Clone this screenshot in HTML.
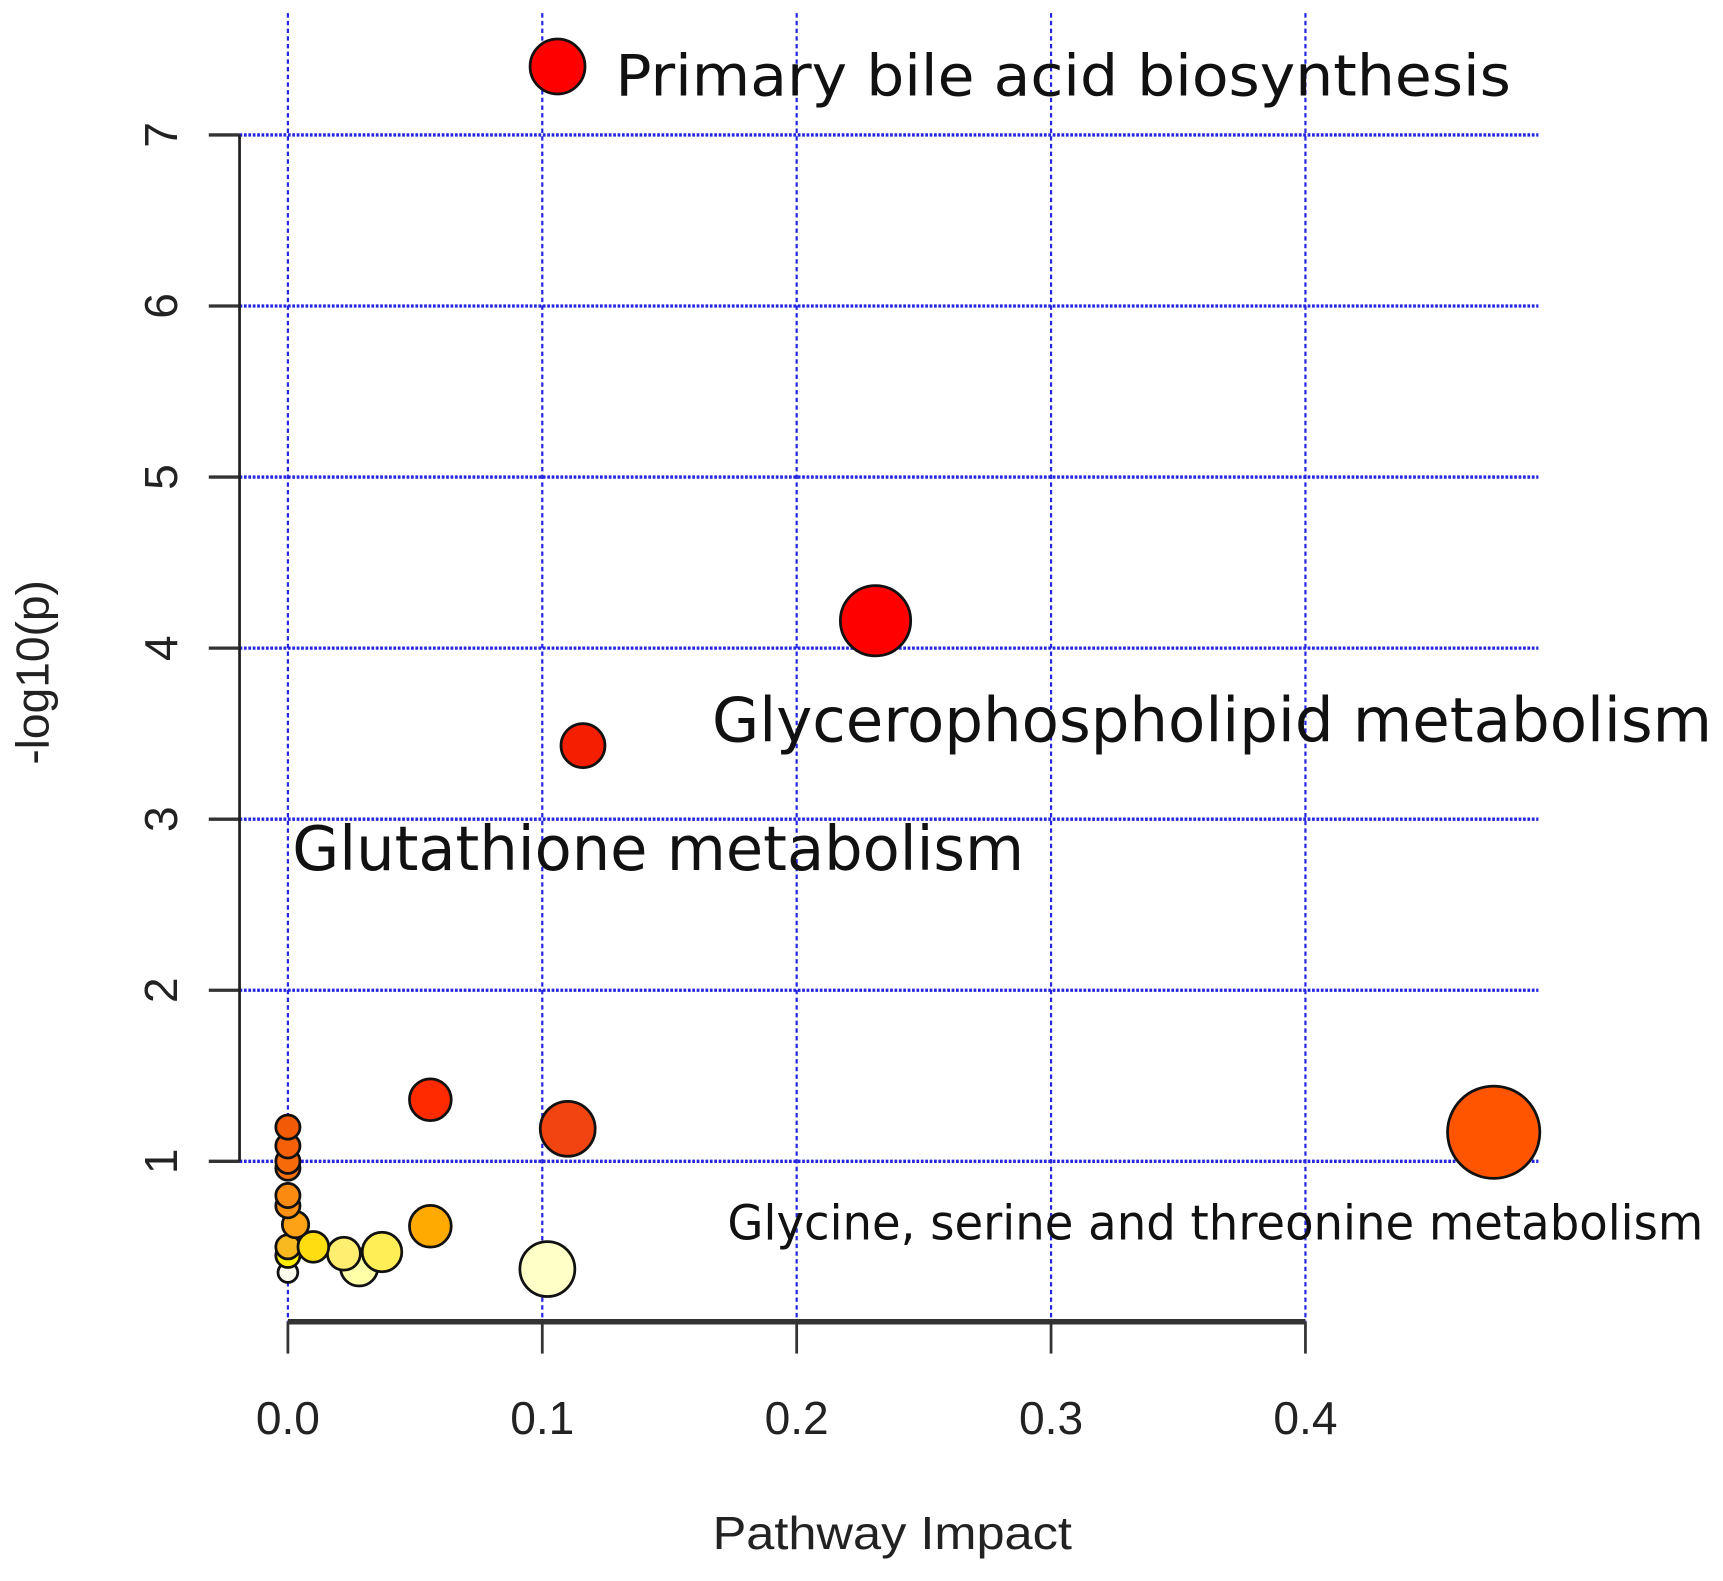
<!DOCTYPE html>
<html><head><meta charset="utf-8"><style>
html,body{margin:0;padding:0;background:#fff;}
svg{display:block;}
text{font-family:"DejaVu Sans","Liberation Sans",sans-serif;}
.ax{font-family:"Liberation Sans",sans-serif;}
</style></head><body>
<svg id="chart" width="1723" height="1581" viewBox="0 0 1568 1439" preserveAspectRatio="none" xmlns="http://www.w3.org/2000/svg">
<g id="grid"></g>
<g id="axes"></g>
<g id="points"></g>
<g id="labels"></g>
</svg>
<script>
const xTicks=[0,0.1,0.2,0.3,0.4];
const xTickLabels=["0.0","0.1","0.2","0.3","0.4"];
const yTicks=[1,2,3,4,5,6,7];
const yTickLabels=["1","2","3","4","5","6","7"];
const impact=[0.106,0.231,0.116,0.474,0.056,0.110,0.056,0.102,0,0,0,0,0,0,0.003,0.010,0.022,0.037,0.028,0,0,0];
const logp=[7.40,4.16,3.43,1.17,1.36,1.19,0.62,0.37,1.20,1.09,1.00,0.96,0.80,0.74,0.63,0.50,0.46,0.47,0.38,0.50,0.45,0.35];
const sizes=[25,32,20,42,19,25,19,25,11,11,11,11,11,11,12,14,15,18,17,11,11,9];
const colors=["#ff0000","#ff0000","#f51e00","#ff5500","#ff2a00","#f24410","#ffaa00","#ffffc8","#f35a05","#f56008","#f76a0a","#f8700c","#fa8a10","#fb9012","#fca214","#ffdd10","#ffee70","#ffee55","#ffffa8","#f8b820","#ffee00","#fffff0"];
const names=["Primary bile acid biosynthesis","Glycerophospholipid metabolism","Glutathione metabolism","Glycine, serine and threonine metabolism"];
const NS="http://www.w3.org/2000/svg";
const X=v=>262+v*2315;
const Y=v=>1057-(v-1)*155.7;
function mk(p,tag,attrs){const e=document.createElementNS(NS,tag);for(const k in attrs)e.setAttribute(k,attrs[k]);p.appendChild(e);return e;}
const grid=document.getElementById('grid'),axes=document.getElementById('axes'),pts=document.getElementById('points'),lab=document.getElementById('labels');
yTicks.forEach((t,i)=>{
  const l=mk(grid,'line',{x1:218,x2:1400,y1:Y(t),y2:Y(t),stroke:'#2626e0','stroke-width':3,'stroke-dasharray':'2.5 1.5'});
  
  
  const tk=mk(axes,'line',{x1:190,x2:218,y1:Y(t),y2:Y(t),stroke:'#333','stroke-width':3});
  
  
  const tx=mk(axes,'text',{class:'ax',x:0,y:0,transform:`translate(161,${Y(t)}) rotate(-90)`,'text-anchor':'middle','font-size':42,fill:'#222'});
  tx.textContent=yTickLabels[i];
  
  
});
xTicks.forEach((t,i)=>{
  const l=mk(grid,'line',{x1:X(t),x2:X(t),y1:12,y2:1203,stroke:'#2626e0','stroke-width':2,'stroke-dasharray':'4 3'});
  
  
  const tk=mk(axes,'line',{x1:X(t),x2:X(t),y1:1203,y2:1232,stroke:'#333','stroke-width':2.5});
  
  
  const tx=mk(axes,'text',{class:'ax',x:X(t),y:1305,'text-anchor':'middle','font-size':42,fill:'#222'});
  tx.textContent=xTickLabels[i];
  
  
});
const ya=mk(axes,'line',{x1:218,x2:218,y1:Y(7),y2:Y(1),stroke:'#222','stroke-width':2.5});


const xa=mk(axes,'line',{x1:X(0),x2:X(0.4),y1:1203,y2:1203,stroke:'#333','stroke-width':5});


const yt=mk(axes,'text',{class:'ax',x:0,y:0,transform:'translate(44,612) rotate(-90)','text-anchor':'middle','font-size':42,fill:'#222'});
yt.textContent='-log10(p)';


const xt=mk(axes,'text',{class:'ax',x:812,y:1410,'text-anchor':'middle','font-size':42,fill:'#222',textLength:327,lengthAdjust:'spacingAndGlyphs'});
xt.textContent='Pathway Impact';


for(let i=impact.length-1;i>=0;i--){
  const c=mk(pts,'circle',{cx:X(impact[i]),cy:Y(logp[i]),r:sizes[i],fill:colors[i],stroke:'#111','stroke-width':2.5});
  
  
}
const lbls=[[560,87,52,815],[648,675,56,910],[266,792,56,666],[662,1128,44,888]];
lbls.forEach((p,i)=>{
  const t=mk(lab,'text',{x:p[0],y:p[1],'font-size':p[2],fill:'#111',textLength:p[3],lengthAdjust:'spacingAndGlyphs'});
  t.textContent=names[i];
  
  
});
</script>
</body></html>
